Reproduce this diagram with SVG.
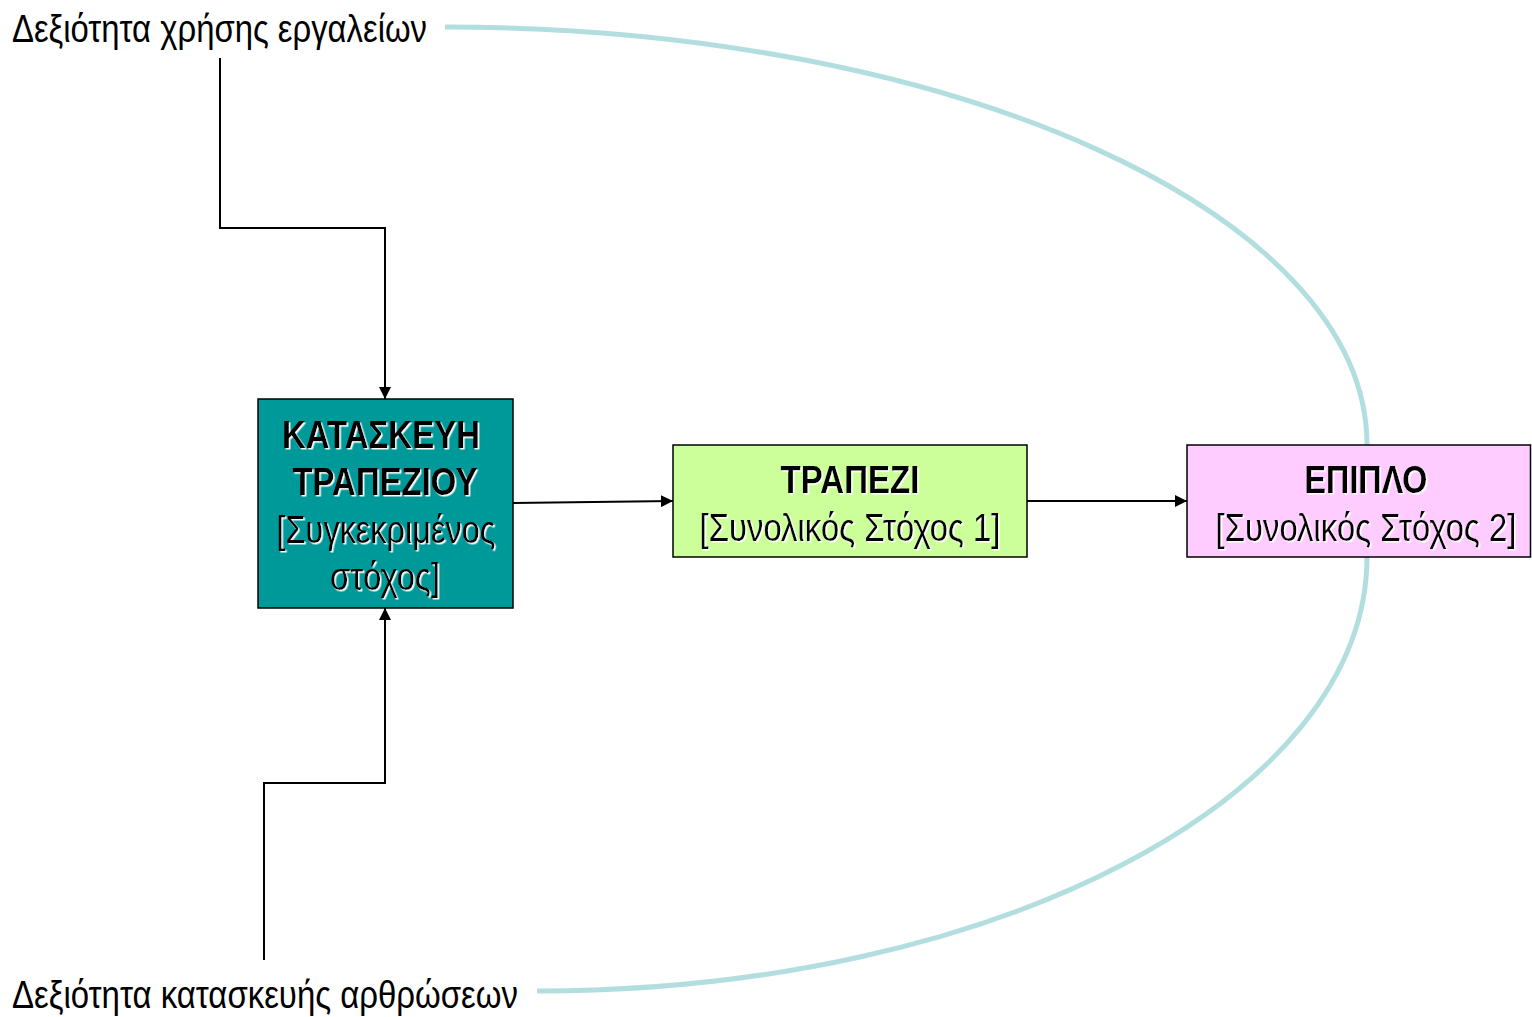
<svg xmlns="http://www.w3.org/2000/svg" width="1532" height="1017" viewBox="0 0 1532 1017">
<style>
text{font-family:"Liberation Sans Narrow","Liberation Sans",Arial,sans-serif;fill:#000;}
.lbl{font-size:38px;}
.b{font-size:38px;font-weight:bold;text-anchor:middle;filter:url(#sh);}
.r{font-size:38px;text-anchor:middle;filter:url(#sh);}
.box{stroke:#000;stroke-width:1.5;}
.ln{fill:none;stroke:#000;stroke-width:2;}
.cv{fill:none;stroke:#B3DEE0;stroke-width:5;}
</style>
<defs>
<filter id="sh" x="-2%" y="-20%" width="104%" height="140%">
<feDropShadow dx="1.5" dy="1.5" stdDeviation="0" flood-color="#ffffff" flood-opacity="1"/>
</filter>
<marker id="ah" viewBox="0 0 10 10" refX="10" refY="5" markerWidth="12" markerHeight="12" markerUnits="userSpaceOnUse" orient="auto">
<path d="M0,0 L10,5 L0,10 z" fill="#000"/>
</marker>
</defs>
<g id="connectors">
<path class="cv" d="M445,27 C954,27 1367,214 1367,445"/>
<path class="cv" d="M537,991 C995,991 1367,797 1367,557"/>
<polyline class="ln" points="220,58 220,228 385,228 385,399" marker-end="url(#ah)"/>
<polyline class="ln" points="264,960 264,783 385,783 385,608" marker-end="url(#ah)"/>
<line class="ln" x1="513" y1="503" x2="673" y2="501" marker-end="url(#ah)"/>
<line class="ln" x1="1027" y1="501" x2="1187" y2="501" marker-end="url(#ah)"/>
</g>
<g id="label-top">
<text class="lbl" x="12" y="42" textLength="415" lengthAdjust="spacingAndGlyphs">Δεξιότητα χρήσης εργαλείων</text>
</g>
<g id="label-bottom">
<text class="lbl" x="12" y="1008" textLength="506" lengthAdjust="spacingAndGlyphs">Δεξιότητα κατασκευής αρθρώσεων</text>
</g>
<g id="node-kataskevi">
<rect class="box" x="258" y="399" width="255" height="209" fill="#009999"/>
<text class="b" x="381" y="448" textLength="198" lengthAdjust="spacingAndGlyphs">ΚΑΤΑΣΚΕΥΗ</text>
<text class="b" x="385" y="495" textLength="185" lengthAdjust="spacingAndGlyphs">ΤΡΑΠΕΖΙΟΥ</text>
<text class="r" x="386" y="543" textLength="219" lengthAdjust="spacingAndGlyphs">[Συγκεκριμένος</text>
<text class="r" x="385" y="590" textLength="110" lengthAdjust="spacingAndGlyphs">στόχος]</text>
</g>
<g id="node-trapezi">
<rect class="box" x="673" y="445" width="354" height="112" fill="#CCFF99"/>
<text class="b" x="850" y="493" textLength="139" lengthAdjust="spacingAndGlyphs">ΤΡΑΠΕΖΙ</text>
<text class="r" x="850" y="541" textLength="301" lengthAdjust="spacingAndGlyphs">[Συνολικός Στόχος 1]</text>
</g>
<g id="node-epiplo">
<rect class="box" x="1187" y="445" width="343.5" height="112" fill="#FFCCFF"/>
<text class="b" x="1366" y="493" textLength="123" lengthAdjust="spacingAndGlyphs">ΕΠΙΠΛΟ</text>
<text class="r" x="1366" y="541" textLength="301" lengthAdjust="spacingAndGlyphs">[Συνολικός Στόχος 2]</text>
</g>
</svg>
